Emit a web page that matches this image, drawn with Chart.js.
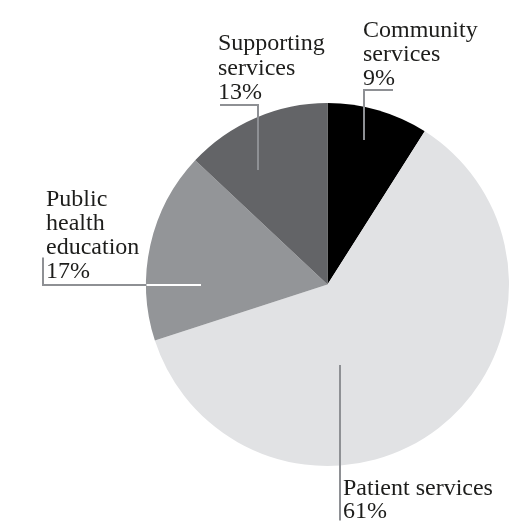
<!DOCTYPE html>
<html>
<head>
<meta charset="utf-8">
<script src="https://cdn.jsdelivr.net/npm/chart.js@4"></script>
<style>
  html, body { margin: 0; padding: 0; background: #ffffff; }
  #wrap { width: 513px; height: 523px; position: relative; }
</style>
</head>
<body>
<div id="wrap"><canvas id="c" width="513" height="523"></canvas></div>
<script>
// ---- data ----
const categories = ["Community services", "Patient services", "Public health education", "Supporting services"];
const shares = [9, 61, 17, 13];
const sliceColors = ["#000000", "#e1e2e4", "#939598", "#636467"];
// label text lines (name lines + percent)
const labelLines = [
  ["Community", "services", "9%"],
  ["Patient services", "61%"],
  ["Public", "health", "education", "17%"],
  ["Supporting", "services", "13%"]
];

// ---- annotation layout (offsets from pie centre, px) ----
const labelLayout = [
  { text: [35.5, -247.5], lh: 24, path: [[36.5, -144.5], [36.5, -194.5], [65.5, -194.5]], inner: "#8e9094" },
  { text: [15.5, 210.5],  lh: 23, path: [[12.5, 80.5], [12.5, 236]], inner: "#8e9094" },
  { text: [-281.5, -78.5], lh: 24, path: [[-126.5, 0.5], [-284.5, 0.5], [-284.5, -27]], inner: "#ffffff" },
  { text: [-109.5, -234.5], lh: 24.5, path: [[-69.5, -114.5], [-69.5, -179.5], [-107.5, -179.5]], inner: "#8e9094" }
];

const leaderPlugin = {
  id: 'leaders',
  afterDraw(chart) {
    const ctx = chart.ctx;
    const arc = chart.getDatasetMeta(0).data[0];
    const cx = arc.x, cy = arc.y, R = arc.outerRadius;
    ctx.save();
    labelLayout.forEach((L, i) => {
      const pts = L.path.map(p => [cx + p[0], cy + p[1]]);
      // outer gray line
      ctx.lineWidth = 2;
      ctx.strokeStyle = "#8e9094";
      ctx.beginPath();
      pts.forEach((p, k) => k ? ctx.lineTo(p[0], p[1]) : ctx.moveTo(p[0], p[1]));
      ctx.stroke();
      // portion inside the pie, in slice-specific colour
      ctx.save();
      ctx.beginPath();
      ctx.arc(cx, cy, R - 0.5, 0, Math.PI * 2);
      ctx.clip();
      ctx.strokeStyle = L.inner;
      ctx.beginPath();
      pts.forEach((p, k) => k ? ctx.lineTo(p[0], p[1]) : ctx.moveTo(p[0], p[1]));
      ctx.stroke();
      ctx.restore();
      // text
      ctx.fillStyle = "#1d1d1b";
      ctx.font = "24px 'Liberation Serif', 'Times New Roman', serif";
      ctx.textAlign = "left";
      ctx.textBaseline = "alphabetic";
      labelLines[i].forEach((t, k) => {
        ctx.fillText(t, cx + L.text[0], cy + L.text[1] + k * L.lh);
      });
    });
    ctx.restore();
  }
};

new Chart(document.getElementById('c'), {
  type: 'pie',
  data: {
    labels: categories,
    datasets: [{
      data: shares,
      backgroundColor: sliceColors,
      borderWidth: 0
    }]
  },
  options: {
    responsive: false,
    animation: false,
    devicePixelRatio: 1,
    layout: { padding: { left: 146, right: 4, top: 103, bottom: 57 } },
    plugins: { legend: { display: false }, tooltip: { enabled: false } }
  },
  plugins: [leaderPlugin]
});
</script>
</body>
</html>
